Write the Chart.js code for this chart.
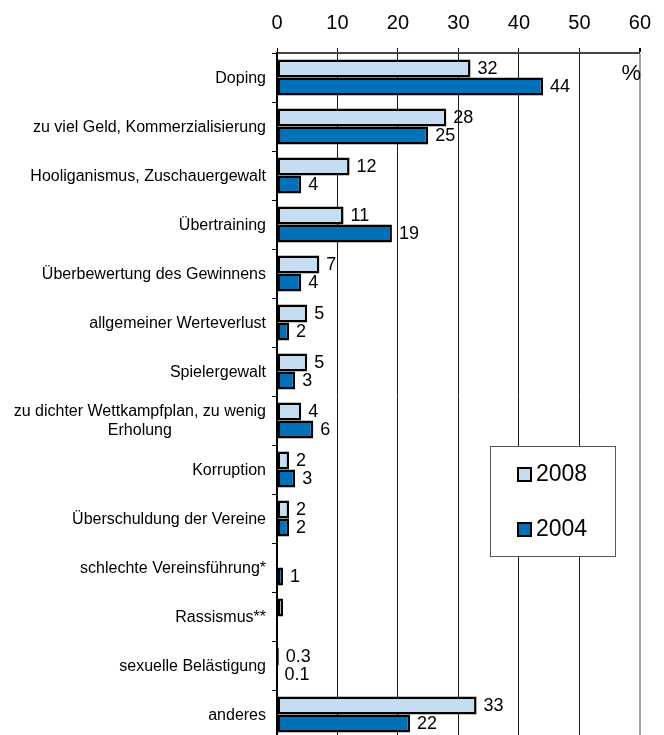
<!DOCTYPE html>
<html>
<head>
<meta charset="utf-8">
<script src="https://cdn.jsdelivr.net/npm/chart.js@4/dist/chart.umd.min.js"></script>
<style>
html, body { margin: 0; padding: 0; background: #fff; overflow: hidden; }
#wrap { width: 664px; height: 739px; }
</style>
</head>
<body>
<div id="wrap"><canvas id="myChart"></canvas></div>
<script>
var categories = ["Doping", "zu viel Geld, Kommerzialisierung", "Hooliganismus, Zuschauergewalt",
  "Übertraining", "Überbewertung des Gewinnens", "allgemeiner Werteverlust", "Spielergewalt",
  ["zu dichter Wettkampfplan, zu wenig", "Erholung"], "Korruption", "Überschuldung der Vereine",
  "schlechte Vereinsführung*", "Rassismus**", "sexuelle Belästigung", "anderes"];
var values2008 = [32, 28, 12, 11, 7, 5, 5, 4, 2, 2, null, 1, 0.3, 33];
var values2004 = [44, 25, 4, 19, 4, 2, 3, 6, 3, 2, 1, null, 0.1, 22];
var labels2008 = ["32", "28", "12", "11", "7", "5", "5", "4", "2", "2", "", "", "0.3", "33"];
var labels2004 = ["44", "25", "4", "19", "4", "2", "3", "6", "3", "2", "1", "", "0.1", "22"];
var xTicks = [0, 10, 20, 30, 40, 50, 60];
var seriesNames = ["2008", "2004"];
var barColors = ["#c6dcf1", "#0070b8"];

var FONT = "'Liberation Sans', Arial, sans-serif";

// value labels next to the bars
var valueLabels = {
  id: "valueLabels",
  afterDatasetsDraw: function(chart) {
    var ctx = chart.ctx;
    var texts = [labels2008, labels2004];
    ctx.save();
    ctx.font = "18px " + FONT;
    ctx.fillStyle = "#000";
    ctx.textAlign = "left";
    ctx.textBaseline = "middle";
    chart.data.datasets.forEach(function(ds, d) {
      chart.getDatasetMeta(d).data.forEach(function(el, i) {
        if (ds.data[i] == null || !texts[d][i]) return;
        ctx.fillText(texts[d][i], el.x + 7, el.y + 1);
      });
    });
    ctx.restore();
  }
};

// category labels: block right-aligned, lines centered within block
var catLabels = {
  id: "catLabels",
  afterDraw: function(chart) {
    var ctx = chart.ctx;
    var ys = chart.scales.y;
    ctx.save();
    ctx.font = "16px " + FONT;
    ctx.fillStyle = "#000";
    ctx.textAlign = "center";
    ctx.textBaseline = "middle";
    categories.forEach(function(c, i) {
      var lines = Array.isArray(c) ? c : [c];
      var w = 0;
      lines.forEach(function(l) { w = Math.max(w, ctx.measureText(l).width); });
      var cx = 266 - w / 2;
      var y0 = ys.getPixelForValue(i) - (lines.length - 1) * 19 / 2;
      lines.forEach(function(l, k) { ctx.fillText(l, cx, y0 + k * 19 + 1); });
    });
    ctx.restore();
  }
};

// legend box and % sign
var boxLegend = {
  id: "boxLegend",
  afterDraw: function(chart) {
    var ctx = chart.ctx;
    ctx.save();
    ctx.fillStyle = "#fff";
    ctx.fillRect(490, 446, 125, 110);
    ctx.strokeStyle = "#555";
    ctx.lineWidth = 1;
    ctx.strokeRect(490.5, 446.5, 125, 110);
    var ys = [474, 529];
    ctx.font = "23px " + FONT;
    ctx.textAlign = "left";
    ctx.textBaseline = "middle";
    seriesNames.forEach(function(n, i) {
      ctx.fillStyle = barColors[i];
      ctx.fillRect(517, ys[i] - 7, 15, 15);
      ctx.strokeStyle = "#000";
      ctx.lineWidth = 2;
      ctx.strokeRect(518, ys[i] - 6, 13, 13);
      ctx.fillStyle = "#000";
      ctx.fillText(n, 536, ys[i] + 1);
    });
    ctx.font = "22px " + FONT;
    ctx.textAlign = "right";
    ctx.fillText("%", 641, 74);
    ctx.restore();
  }
};

new Chart("myChart", {
  type: "bar",
  data: {
    labels: categories,
    datasets: [{
      label: seriesNames[0],
      data: values2008,
      backgroundColor: barColors[0]
    }, {
      label: seriesNames[1],
      data: values2004,
      backgroundColor: barColors[1]
    }]
  },
  options: {
    indexAxis: "y",
    responsive: true,
    maintainAspectRatio: false,
    animation: false,
    datasets: {
      bar: {
        borderColor: "#000",
        borderWidth: 2.5,
        borderSkipped: false,
        categoryPercentage: 0.735,
        barPercentage: 1
      }
    },
    layout: {padding: {left: 0, right: 21, top: 0, bottom: 0}},
    plugins: {
      legend: {display: false},
      tooltip: {enabled: false}
    },
    scales: {
      x: {
        position: "top",
        min: 0,
        max: 60,
        afterBuildTicks: function(s) { s.ticks = xTicks.map(function(v) { return {value: v}; }); },
        afterFit: function(s) { s.height = 53; },
        ticks: {font: {size: 20, family: FONT}, color: "#000", padding: 13},
        grid: {
          color: function(c) { return c.tick && c.tick.value === 60 ? "#a0a0a0" : "#1a1a1a"; },
          lineWidth: function(c) { return c.tick && c.tick.value === 60 ? 2 : 1; },
          tickColor: "#000",
          tickLength: 5
        },
        border: {color: "#444", width: 2}
      },
      y: {
        afterFit: function(s) { s.width = 277; },
        ticks: {display: false},
        grid: {drawOnChartArea: false, color: "#000", tickLength: 5, offset: true},
        border: {color: "#000", width: 2}
      }
    }
  },
  plugins: [valueLabels, catLabels, boxLegend]
});
</script>
</body>
</html>
